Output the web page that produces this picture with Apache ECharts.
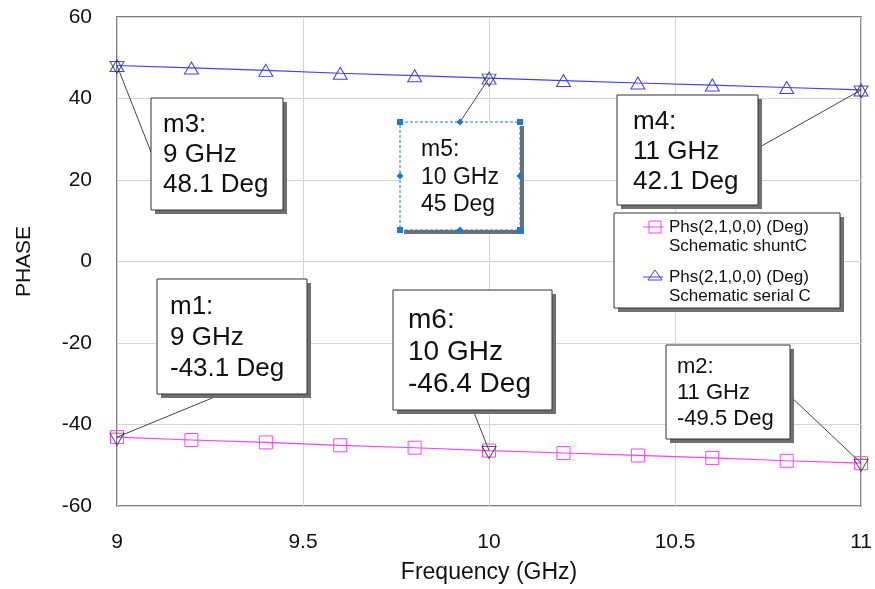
<!DOCTYPE html>
<html><head><meta charset="utf-8">
<script src="https://cdn.jsdelivr.net/npm/echarts@6/dist/echarts.min.js"></script>
<style>html,body{margin:0;padding:0;background:#fff}#c{width:875px;height:589px}</style>
</head><body><div id="c"></div>
<script>
// ---- data ----
const freq = [9, 9.2, 9.4, 9.6, 9.8, 10, 10.2, 10.4, 10.6, 10.8, 11];
const shuntC = [-43.1, -43.8, -44.4, -45.1, -45.7, -46.4, -47.0, -47.6, -48.2, -48.9, -49.5];
const serialC = [48.1, 47.5, 46.9, 46.2, 45.6, 45.0, 44.4, 43.8, 43.3, 42.7, 42.1];
const legendLine1 = ['Phs(2,1,0,0) (Deg)', 'Phs(2,1,0,0) (Deg)'];
const legendLine2 = ['Schematic shuntC', 'Schematic serial C'];
const xTicks = [9, 9.5, 10, 10.5, 11];
const yTicks = [-60, -40, -20, 0, 20, 40, 60];
const markerNames = ['m1', 'm2', 'm3', 'm4', 'm5', 'm6'];
const markerSeries = [0, 0, 1, 1, 1, 0];
const markerFreq = [9, 11, 9, 11, 10, 10];

// ---- layout (pixels) ----
const FONT = '"Liberation Sans", Arial, sans-serif';
const boxLayout = {
  m1: {x: 157, y: 279, w: 150, h: 115, fs: 26, lh: 31, tx: 13, ty: 12.5, ax: 222, ay: 394},
  m2: {x: 666, y: 345, w: 124, h: 94, fs: 22, lh: 26, tx: 11, ty: 9, ax: 790, ay: 396},
  m3: {x: 151, y: 98, w: 132, h: 112, fs: 26, lh: 30, tx: 12, ty: 12, ax: 151, ay: 152},
  m4: {x: 617, y: 95, w: 141, h: 110, fs: 26, lh: 30, tx: 16, ty: 12, ax: 758, ay: 148},
  m5: {x: 400, y: 122, w: 120, h: 108, fs: 23, lh: 27.5, tx: 21, ty: 14, ax: 460, ay: 122, sel: true},
  m6: {x: 393, y: 290, w: 159, h: 120, fs: 28, lh: 32, tx: 15, ty: 14, ax: 473, ay: 410}
};
const colors = ['#ff40ff', '#4040ff'];
const seriesData = [shuntC, serialC];

const chart = echarts.init(document.getElementById('c'), null, {renderer: 'canvas'});
const pairs = (ys) => freq.map((f, i) => [f, ys[i]]);
const markerPts = markerNames.map((n, k) => {
  const i = freq.indexOf(markerFreq[k]);
  return [markerFreq[k], seriesData[markerSeries[k]][i]];
});

chart.setOption({
  animation: false,
  backgroundColor: '#fff',
  grid: {left: 117, right: 11, top: 17, bottom: 82, show: true, borderColor: '#555', borderWidth: 1.5, backgroundColor: 'transparent'},
  xAxis: {
    type: 'value', min: xTicks[0], max: xTicks[xTicks.length - 1], interval: 0.5,
    name: 'Frequency (GHz)', nameLocation: 'middle', nameGap: 55,
    nameTextStyle: {fontFamily: FONT, fontSize: 23, color: '#111'},
    axisLine: {show: false}, axisTick: {show: false},
    axisLabel: {fontFamily: FONT, fontSize: 21, color: '#111', margin: 26},
    splitLine: {show: true, lineStyle: {color: '#d4d4d4', width: 1}}
  },
  yAxis: {
    type: 'value', min: yTicks[0], max: yTicks[yTicks.length - 1], interval: 20,
    name: 'PHASE', nameLocation: 'middle', nameGap: 82,
    nameTextStyle: {fontFamily: FONT, fontSize: 21, color: '#111'},
    axisLine: {show: false}, axisTick: {show: false},
    axisLabel: {fontFamily: FONT, fontSize: 21, color: '#111', margin: 25},
    splitLine: {show: true, lineStyle: {color: '#d4d4d4', width: 1}}
  },
  series: [
    {
      type: 'line', name: legendLine2[0], data: pairs(shuntC), z: 3,
      symbol: 'rect', symbolSize: 13, showAllSymbol: true,
      lineStyle: {color: colors[0], width: 1.2},
      itemStyle: {color: 'rgba(255,255,255,0)', borderColor: colors[0], borderWidth: 1}
    },
    {
      type: 'line', name: legendLine2[1], data: pairs(serialC), z: 3,
      symbol: 'triangle', symbolSize: [14, 12], showAllSymbol: true,
      lineStyle: {color: colors[1], width: 1.2},
      itemStyle: {color: 'rgba(255,255,255,0)', borderColor: colors[1], borderWidth: 1}
    },
    {
      type: 'scatter', data: markerPts, z: 6,
      symbol: 'path://M0,0 L14,0 L7,12 Z', symbolSize: [14, 12], symbolOffset: [0, 2],
      itemStyle: {color: 'rgba(255,255,255,0)', borderColor: '#333', borderWidth: 1}
    }
  ]
});

// ---- annotations ----
const g = [];
const SH = '#707070';
markerNames.forEach((n, k) => {
  const b = boxLayout[n];
  const p = chart.convertToPixel({gridIndex: 0}, markerPts[k]);
  g.push({type: 'line', z: 50, shape: {x1: p[0], y1: p[1], x2: b.ax, y2: b.ay}, style: {stroke: '#444', lineWidth: 1}});
  g.push({type: 'rect', z: 60, shape: {x: b.x + 4, y: b.y + 4, width: b.w, height: b.h}, style: {fill: SH}});
  if (b.sel) {
    g.push({type: 'rect', z: 61, shape: {x: b.x, y: b.y, width: b.w, height: b.h}, style: {fill: '#fff', stroke: '#1a7bd6', lineWidth: 1, lineDash: [3, 2]}});
    const hx = [b.x, b.x + b.w / 2, b.x + b.w];
    const hy = [b.y, b.y + b.h / 2, b.y + b.h];
    hx.forEach((xx, i) => hy.forEach((yy, j) => {
      if (i === 1 && j === 1) return;
      const corner = (i !== 1 && j !== 1);
      if (corner) g.push({type: 'rect', z: 63, shape: {x: xx - 3, y: yy - 3, width: 6, height: 6}, style: {fill: '#1a7bd6'}});
      else g.push({type: 'polygon', z: 63, shape: {points: [[xx, yy - 3.5], [xx + 3.5, yy], [xx, yy + 3.5], [xx - 3.5, yy]]}, style: {fill: '#1a7bd6'}});
    }));
  } else {
    g.push({type: 'rect', z: 61, shape: {x: b.x, y: b.y, width: b.w, height: b.h}, style: {fill: '#fff', stroke: '#333', lineWidth: 1}});
  }
  const f = markerPts[k][0], v = markerPts[k][1];
  g.push({type: 'text', z: 62, style: {
    text: n + ':\n' + f + ' GHz\n' + v + ' Deg', x: b.x + b.tx, y: b.y + b.ty,
    font: b.fs + 'px ' + FONT, lineHeight: b.lh, fill: '#111', verticalAlign: 'top', align: 'left'
  }});
});

// ---- legend (drawn box) ----
const L = {x: 614, y: 213, w: 226, h: 95, ix: 643, iw: 20, tx: 669, rows: [227, 277], lh: 19.5, fs: 17};
g.push({type: 'rect', z: 60, shape: {x: L.x + 4, y: L.y + 4, width: L.w, height: L.h}, style: {fill: SH}});
g.push({type: 'rect', z: 61, shape: {x: L.x, y: L.y, width: L.w, height: L.h}, style: {fill: '#fff', stroke: '#333', lineWidth: 1}});
[0, 1].forEach((s) => {
  const yy = L.rows[s];
  g.push({type: 'line', z: 62, shape: {x1: L.ix, y1: yy, x2: L.ix + L.iw, y2: yy}, style: {stroke: colors[s], lineWidth: 1}});
  const cx = L.ix + L.iw / 2 + 2;
  if (s === 0) g.push({type: 'rect', z: 63, shape: {x: cx - 6, y: yy - 6, width: 12, height: 12}, style: {fill: 'none', stroke: colors[s], lineWidth: 1}});
  else g.push({type: 'polygon', z: 63, shape: {points: [[cx - 7, yy + 3], [cx + 7, yy + 3], [cx, yy - 7]]}, style: {fill: 'none', stroke: colors[s], lineWidth: 1}});
  g.push({type: 'text', z: 62, style: {text: legendLine1[s] + '\n' + legendLine2[s], x: L.tx, y: yy - L.lh / 2, font: L.fs + 'px ' + FONT, lineHeight: L.lh, fill: '#111', verticalAlign: 'top'}});
});
chart.setOption({graphic: {elements: g}});
</script></body></html>
